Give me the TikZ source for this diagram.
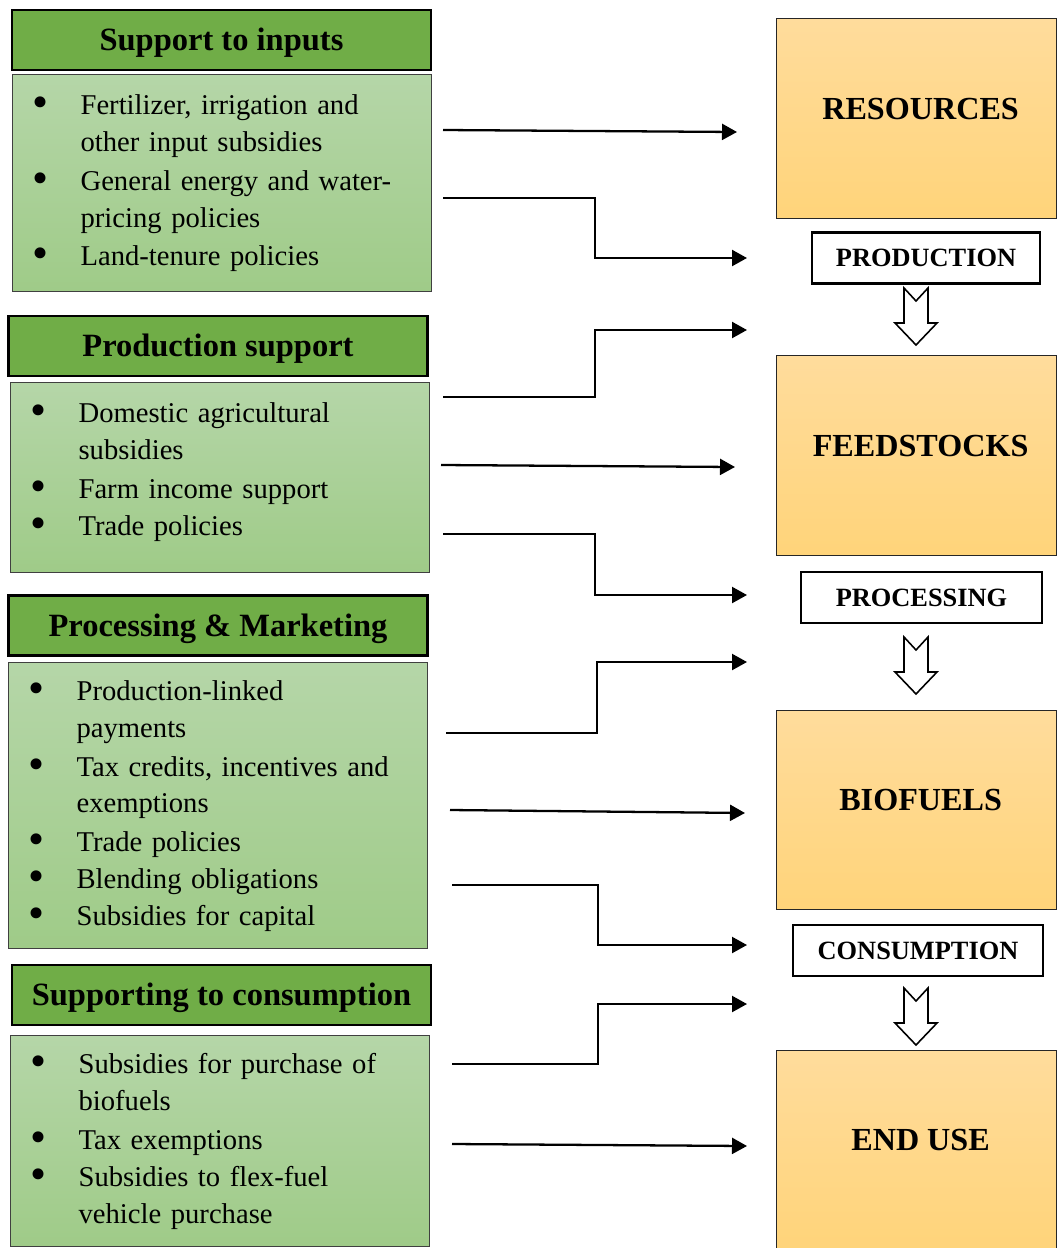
\documentclass[tikz,border=0pt]{standalone}
\usepackage{fontspec}
\setmainfont{Liberation Serif}
\usetikzlibrary{arrows.meta}
\definecolor{hdrgreen}{HTML}{70AD47}
\definecolor{bodytop}{HTML}{B5D6A8}
\definecolor{bodybot}{HTML}{9FCB88}
\definecolor{stagetop}{HTML}{FFDC9C}
\definecolor{stagebot}{HTML}{FFD47A}
\newcommand{\bitem}[1]{\makebox[1.36cm][l]{\hspace{0.4cm}\raisebox{-0.06cm}[0pt][0pt]{\scalebox{1.6}{\textbullet}}}%
  \begin{tabular}[t]{@{}l@{}}#1\end{tabular}}
\newcommand{\stagetext}[1]{\hspace*{0.16cm}\raisebox{0.2cm}[\height][\depth]{#1}}
\tikzset{
  header/.style={draw=black,line width=1.6pt,fill=hdrgreen,minimum width=8.38cm,minimum height=1.2cm,
    inner sep=0pt,text height=0.434cm,text depth=0cm,font=\fontsize{18.5}{22}\selectfont\bfseries},
  policy/.style={draw=black!75,line width=0.7pt,top color=bodytop,bottom color=bodybot,minimum width=8.38cm,
    anchor=north west,inner xsep=0pt,inner ysep=0pt,text width=8.38cm,align=left,
    font=\fontsize{16.3}{20.98}\selectfont},
  stage/.style={draw=black!85,line width=0.7pt,top color=stagetop,bottom color=stagebot,minimum width=5.6cm,
    minimum height=4cm,anchor=north west,font=\fontsize{18.3}{22}\selectfont\bfseries},
  step box/.style={draw=black,line width=1.2pt,fill=white,minimum height=1.02cm,inner sep=0pt,
    font=\fontsize{15}{18}\selectfont\bfseries},
  link/.style={line width=1.3pt,-{Triangle[length=0.3cm,width=0.32cm]}},
  hollow/.pic={\draw[fill=white,line width=0.9pt] (-12,0) -- (0,13) -- (12,0) -- (12,35) -- (21,35) -- (0,57)
    -- (-21,35) -- (-12,35) -- cycle;}
}
\begin{document}
\begin{tikzpicture}[x=0.02cm,y=-0.02cm]
  \useasboundingbox (0,0) rectangle (1056,1248);
  \node[header] (hin) at (221.5,40) {Support to inputs};
  \node[policy,minimum height=4.34cm] (in) at (12,74) {%
    \bitem{Fertilizer, irrigation and\\other input subsidies}\\
    \bitem{General energy and water-\\pricing policies}\\
    \bitem{Land-tenure policies}};
  \node[header] (hprod) at (218,346) {Production support};
  \node[policy,minimum height=3.8cm] (prod) at (10,382) {%
    \bitem{Domestic agricultural\\subsidies}\\
    \bitem{Farm income support}\\
    \bitem{Trade policies}\rule[-0.46cm]{0pt}{0pt}};
  \node[header] (hproc) at (218,625.5) {Processing \& Marketing};
  \node[policy,minimum height=5.72cm] (proc) at (8,662) {%
    \bitem{Production-linked\\payments}\\
    \bitem{Tax credits, incentives and\\exemptions}\\
    \bitem{Trade policies}\\
    \bitem{Blending obligations}\\
    \bitem{Subsidies for capital}};
  \node[header] (hcons) at (221.5,995) {Supporting to consumption};
  \node[policy,minimum height=4.22cm] (cons) at (10,1035) {%
    \bitem{Subsidies for purchase of\\biofuels}\\
    \bitem{Tax exemptions}\\
    \bitem{Subsidies to flex-fuel\\vehicle purchase}};

  \node[stage] (res) at (776,18) {\stagetext{RESOURCES}};
  \node[step box,minimum width=4.56cm] (prodn) at (926,258) {PRODUCTION};
  \pic at (916,288) {hollow};
  \node[stage] (feed) at (776,355) {\stagetext{FEEDSTOCKS}};
  \node[step box,minimum width=4.82cm] (procg) at (921.5,597.5) {PROCESSING};
  \pic at (916,637) {hollow};
  \node[stage,minimum height=3.98cm] (bio) at (776,710) {\stagetext{BIOFUELS}};
  \node[step box,minimum width=5cm] (consn) at (918,950.5) {CONSUMPTION};
  \pic at (916,988) {hollow};
  \node[stage,minimum height=3.96cm] (end) at (776,1050) {\stagetext{END USE}};

  \coordinate (a1) at (443,130);  \coordinate (b1) at (737,132);
  \coordinate (a2) at (443,198);  \coordinate (b2) at (747,258);
  \coordinate (a3) at (443,397);  \coordinate (b3) at (747,330);
  \coordinate (a4) at (441,465);  \coordinate (b4) at (735,467);
  \coordinate (a5) at (443,534);  \coordinate (b5) at (747,595);
  \coordinate (a6) at (446,733);  \coordinate (b6) at (747,662);
  \coordinate (a7) at (450,810);  \coordinate (b7) at (745,813);
  \coordinate (a8) at (452,885);  \coordinate (b8) at (747,945);
  \coordinate (a9) at (452,1064); \coordinate (b9) at (747,1004);
  \coordinate (a10) at (452,1144); \coordinate (b10) at (747,1146);
  \draw[link] (a1) -- (b1);
  \draw[link] (a2) -- (595,198) |- (b2);
  \draw[link] (a3) -- (595,397) |- (b3);
  \draw[link] (a4) -- (b4);
  \draw[link] (a5) -- (595,534) |- (b5);
  \draw[link] (a6) -- (597,733) |- (b6);
  \draw[link] (a7) -- (b7);
  \draw[link] (a8) -- (598,885) |- (b8);
  \draw[link] (a9) -- (598,1064) |- (b9);
  \draw[link] (a10) -- (b10);
\end{tikzpicture}
\end{document}
